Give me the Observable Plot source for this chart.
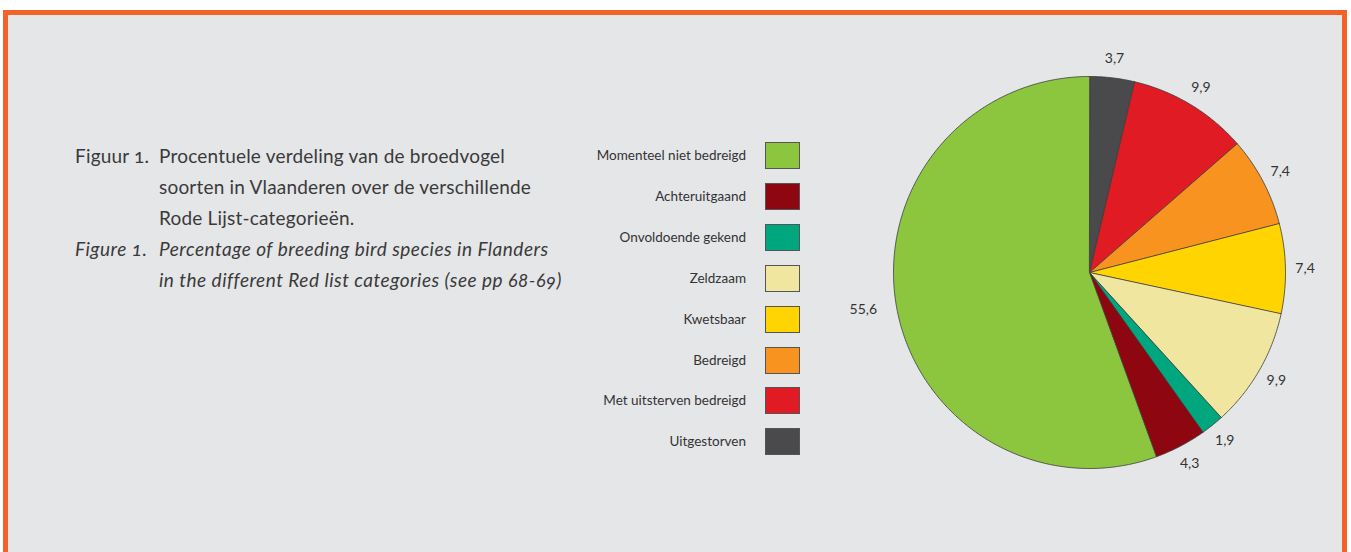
<!DOCTYPE html>
<html>
<head>
<meta charset="utf-8">
<script src="https://cdn.jsdelivr.net/npm/d3@7"></script>
<script src="https://cdn.jsdelivr.net/npm/@observablehq/plot@0.6"></script>
<style>
  html, body { margin: 0; padding: 0; background: #ffffff; width: 1351px; height: 552px; overflow: hidden; }
  body { font-family: Lato, "Open Sans", sans-serif; color: #333; }
  #frame { position: absolute; left: 3px; top: 10px; width: 1344px; height: 620px; box-sizing: border-box;
           border: 5px solid #f26329; background: #e5e6e8; }
  #caption { position: absolute; left: 75px; top: 140px; font-size: 19px; line-height: 31px; color: #3a3a3a;
             display: grid; grid-template-columns: 84px auto; font-variant-numeric: oldstyle-nums; letter-spacing: 0.2px; }
  #caption .it { font-style: italic; letter-spacing: 0.5px; }
  #legend { position: absolute; left: 560px; top: 142px; }
  .lrow { position: absolute; left: 0; height: 27px; width: 240px; }
  .lrow span { position: absolute; right: 54px; top: 0; line-height: 27px; font-size: 13.5px; color: #333; white-space: nowrap; }
  .lrow i { position: absolute; left: 205px; top: 0; width: 33px; height: 25px; border: 1px solid #555; }
  #pie { position: absolute; left: 833px; top: 16px; }
</style>
</head>
<body>
<div id="frame"></div>
<div id="caption">
  <div>Figuur 1.</div><div>Procentuele verdeling van de broedvogel<br>soorten in Vlaanderen over de verschillende<br>Rode Lijst-categorieën.</div>
  <div class="it">Figure 1.</div><div class="it">Percentage of breeding bird species in Flanders<br>in the different Red list categories (see pp 68-69)</div>
</div>
<div id="legend"></div>
<div id="pie"></div>
<script>
// Pie slices in clockwise order starting at 12 o'clock
const categories = ["Uitgestorven", "Met uitsterven bedreigd", "Bedreigd", "Kwetsbaar", "Zeldzaam", "Onvoldoende gekend", "Achteruitgaand", "Momenteel niet bedreigd"];
const values = [3.7, 9.9, 7.4, 7.4, 9.9, 1.9, 4.3, 55.6];
const colors = ["#4a4a4c", "#e01b24", "#f7931e", "#ffd400", "#f0e6a0", "#00a67e", "#8e0710", "#8cc63f"];
const valueLabels = ["3,7", "9,9", "7,4", "7,4", "9,9", "1,9", "4,3", "55,6"];
const legendOrder = ["Momenteel niet bedreigd", "Achteruitgaand", "Onvoldoende gekend", "Zeldzaam", "Kwetsbaar", "Bedreigd", "Met uitsterven bedreigd", "Uitgestorven"];

// Legend
const legend = document.getElementById("legend");
legendOrder.forEach((c, i) => {
  const row = document.createElement("div");
  row.className = "lrow";
  row.style.top = (i * 40.9) + "px";
  const s = document.createElement("span"); s.textContent = c;
  const sw = document.createElement("i"); sw.style.background = colors[categories.indexOf(c)];
  row.appendChild(s); row.appendChild(sw);
  legend.appendChild(row);
});

// Build slice geometry from values
const total = d3.sum(values);
const pts = [];
const labels = [];
let acc = 0;
categories.forEach((c, i) => {
  const a0 = acc / total * 2 * Math.PI;
  acc += values[i];
  const a1 = acc / total * 2 * Math.PI;
  pts.push({cat: c, x: 0, y: 0});
  const n = Math.max(4, Math.ceil((a1 - a0) / (Math.PI / 360)));
  for (let k = 0; k <= n; k++) {
    const a = a0 + (a1 - a0) * k / n;
    pts.push({cat: c, x: Math.sin(a), y: Math.cos(a)});
  }
  const am = (a0 + a1) / 2;
  labels.push({text: valueLabels[i], x: 1.1 * Math.sin(am), y: 1.1 * Math.cos(am)});
});

const S = 256 / 196;
const chart = Plot.plot({
  width: 512, height: 512, margin: 0,
  x: {domain: [-S, S], axis: null},
  y: {domain: [-S, S], axis: null},
  color: {domain: categories, range: colors},
  style: {background: "transparent", overflow: "visible"},
  marks: [
    Plot.line(pts, {x: "x", y: "y", z: "cat", fill: "cat", stroke: "#3a3a3a", strokeWidth: 0.8, curve: "linear-closed"}),
    Plot.text(labels.filter(d => d.x >= 0), {x: "x", y: "y", text: "text", fontSize: 14, fill: "#333", fontFamily: "Lato, sans-serif"}),
    Plot.text(labels.filter(d => d.x < 0), {x: "x", y: "y", text: "text", fontSize: 14, fill: "#333", textAnchor: "end", fontFamily: "Lato, sans-serif"})
  ]
});
document.getElementById("pie").appendChild(chart);
</script>
</body>
</html>
